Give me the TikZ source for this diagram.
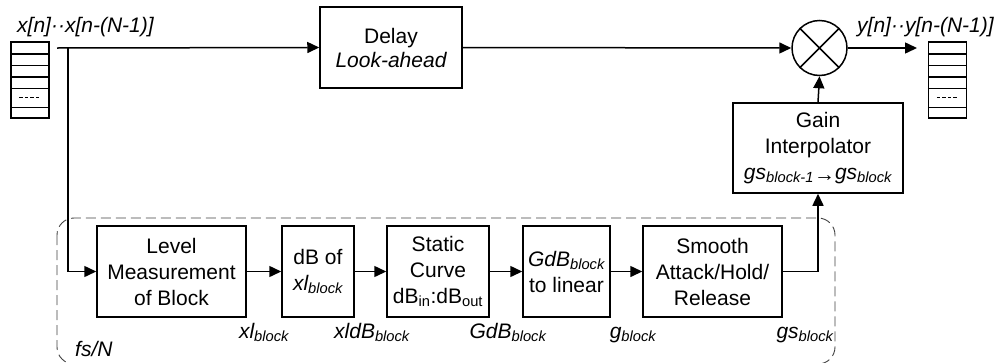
\documentclass[tikz,border=0pt]{standalone}
\usepackage{fontspec}
\setmainfont{Liberation Sans}
\usetikzlibrary{arrows.meta}
\newcommand{\lo}[1]{\textsubscript{#1}}

\begin{document}
\begin{tikzpicture}[x=1pt,y=-1pt,
  every node/.style={font=\fontsize{21}{26}\selectfont, inner sep=0pt},
  blk/.style={draw, line width=1.5pt, align=center, minimum height=91pt},
  sig/.style={line width=1.5pt, -{Triangle[length=12pt,width=11pt]}},
  lbl/.style={anchor=base, font=\fontsize{21}{26}\selectfont\itshape},
  grp/.style={draw=black!75, line width=0.9pt, dash pattern=on 10pt off 5pt, rounded corners=17pt},
  buf/.style={draw, line width=1.4pt, minimum width=38pt, minimum height=76pt},
  cell/.style={line width=1.4pt},
  dots/.style={line width=0.8pt, dash pattern=on 3.5pt off 2pt}
]
\useasboundingbox (0,0) rectangle (1000,362);

% block-rate processing group
\draw[grp] (57,218) rectangle (835,364);

% sample buffers
\node[buf] (inbuf) at (30,80) {};
\node[buf] (outbuf) at (947.5,80) {};
\foreach \b in {inbuf,outbuf}{
  \foreach \yy in {54,65.7,77,88.3,107.3}
    \draw[cell] (\b.west |- 0,\yy) -- (\b.east |- 0,\yy);
  \draw[dots] ([xshift=9pt]\b.west |- 0,97.7) -- ([xshift=-9.5pt]\b.east |- 0,97.7);
}
\node[lbl, anchor=base west] (inlbl) at (17,32) {x[n]··x[n-(N-1)]};
\node[lbl, anchor=base west] (outlbl) at (857,32) {y[n]··y[n-(N-1)]};

% signal path
\node[blk, minimum width=142pt, minimum height=81pt, font=\fontsize{21}{24}\selectfont] (delay) at (391,47.5) {Delay\\{\itshape Look-ahead}};
\node[draw, circle, line width=1.5pt, minimum size=55pt] (mult) at (819.5,48) {};
\draw[line width=1.5pt] (mult.north west) -- (mult.south east) (mult.north east) -- (mult.south west);
\node[blk, minimum width=170pt, minimum height=90pt] (gain) at (818,148) {Gain\\Interpolator\\{\itshape gs\lo{block-1}\raisebox{-2pt}{→}gs\lo{block}}};

% gain computer
\node[blk, minimum width=149pt] (level) at (171.5,271.5) {Level\\Measurement\\of Block};
\node[blk, minimum width=72pt] (dbof) at (318,271.5) {dB of\\{\itshape xl\lo{block}}};
\node[blk, minimum width=102pt] (static) at (438,271.5) {Static\\Curve\\dB\lo{in}:dB\lo{out}};
\node[blk, minimum width=87pt] (gdb) at (566.5,271.5) {{\itshape GdB\lo{block}}\\to linear};
\node[blk, minimum width=139pt] (smooth) at (712.5,271.5) {Smooth\\Attack/Hold/\\Release};

\node[lbl] (xl) at (264,338) {xl\lo{block}};
\node[lbl] (xldb) at (372,338) {xldB\lo{block}};
\node[lbl] (gdbl) at (508,338) {GdB\lo{block}};
\node[lbl] (gl) at (633,338) {g\lo{block}};
\node[lbl] (gsl) at (805,338) {gs\lo{block}};
\node[lbl, anchor=base west] (rate) at (75,356) {fs/N};

% connectors
\coordinate (src) at (57,48);
\coordinate (tap) at (68,48);
\coordinate (sink) at (917,48);
\draw[sig] (src) -- (delay.west);
\draw[sig] (delay.east) -- (mult.west);
\draw[sig] (mult.east) -- (sink);
\draw[sig] (tap) |- (level.west);
\draw[sig] (level) -- (dbof);
\draw[sig] (dbof) -- (static);
\draw[sig] (static) -- (gdb);
\draw[sig] (gdb) -- (smooth);
\draw[sig] (smooth.east) -| (gain.south);
\draw[sig] (gain.north) -- (mult.south);
\end{tikzpicture}
\end{document}
